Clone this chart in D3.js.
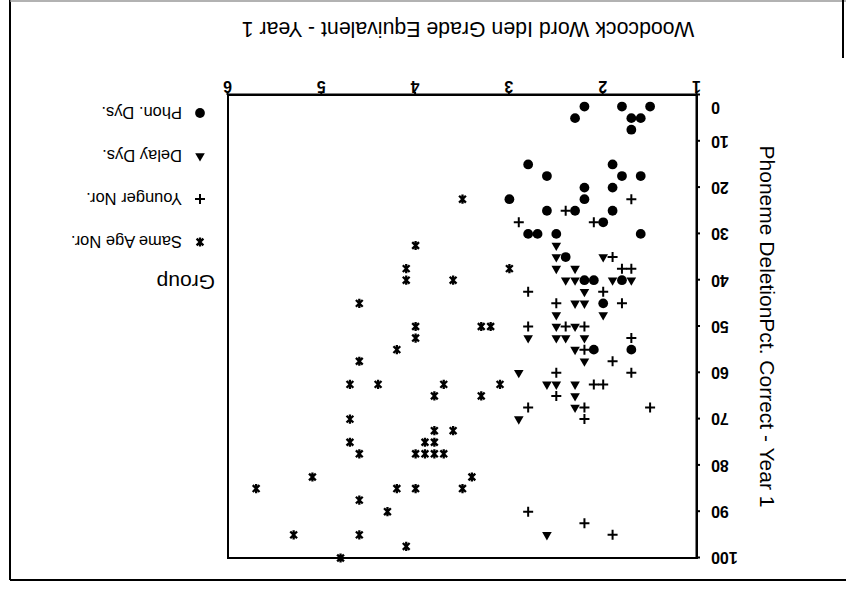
<!DOCTYPE html>
<html>
<head>
<meta charset="utf-8">
<script src="https://cdn.jsdelivr.net/npm/d3@7"></script>
<style>
  body { margin: 0; background: #fff; }
  svg { display: block; }
  text { font-family: "Liberation Sans", Arial, sans-serif; fill: #000; }
</style>
</head>
<body>
<div id="chart"></div>
<script>
// [Woodcock grade equivalent, phoneme deletion pct] per group
const phonDys = [
  [2.2, 2.5], [1.8, 2.5], [1.5, 2.5], [2.3, 5], [1.7, 5], [1.6, 5], [1.7, 7.5],
  [2.8, 15], [2.6, 17.5], [1.9, 15], [1.8, 17.5], [1.6, 17.5], [2.2, 20], [1.9, 20],
  [3.0, 22.5], [2.2, 22.5], [2.6, 25], [2.3, 25], [1.9, 25], [2.0, 27.5],
  [2.8, 30], [2.7, 30], [2.5, 30], [1.6, 30], [2.4, 35], [2.2, 40], [2.1, 40],
  [1.8, 40], [2.0, 45], [1.7, 55], [2.1, 55]
];
const delayDys = [
  [2.5, 32.5], [2.5, 35], [2.0, 35], [2.5, 37.5], [2.3, 37.5], [2.4, 40], [2.3, 40],
  [1.9, 40], [1.7, 40], [2.2, 42.5], [2.3, 45], [2.2, 45], [2.5, 47.5], [2.0, 47.5],
  [2.5, 50], [2.3, 50], [2.8, 52.5], [2.5, 52.5], [2.4, 52.5], [2.2, 52.5],
  [2.3, 55], [2.2, 57.5], [2.9, 60], [2.6, 62.5], [2.5, 62.5], [2.3, 62.5],
  [2.3, 65], [2.3, 67.5], [2.9, 70], [2.6, 95]
];
const youngerNor = [
  [1.7, 22.5], [2.4, 25], [2.1, 27.5], [2.9, 27.5], [1.9, 35], [1.8, 37.5], [1.7, 37.5],
  [2.8, 42.5], [2.0, 42.5], [2.5, 45], [1.8, 45], [2.8, 50], [2.4, 50], [2.2, 50],
  [1.7, 52.5], [2.2, 55], [1.9, 57.5], [2.5, 60], [1.7, 60], [2.1, 62.5], [2.0, 62.5],
  [2.5, 65], [2.8, 67.5], [2.2, 67.5], [1.5, 67.5], [2.2, 70], [2.8, 90], [2.2, 92.5],
  [1.9, 95]
];
const sameAgeNor = [
  [3.5, 22.5], [3.0, 37.5], [4.0, 32.5], [4.1, 37.5], [4.1, 40], [3.6, 40], [4.6, 45],
  [3.3, 50], [3.2, 50], [4.0, 50], [4.0, 52.5], [4.2, 55], [4.6, 57.5],
  [4.7, 62.5], [4.4, 62.5], [3.7, 62.5], [3.1, 62.5], [3.8, 65], [3.3, 65],
  [4.7, 70], [4.7, 75], [4.6, 77.5], [3.8, 72.5], [3.6, 72.5], [3.9, 75], [3.8, 75],
  [4.0, 77.5], [3.9, 77.5], [3.8, 77.5], [3.7, 77.5], [5.1, 82.5], [5.7, 85],
  [4.2, 85], [4.0, 85], [3.5, 85], [3.4, 82.5], [4.6, 87.5], [4.3, 90], [5.3, 95],
  [4.6, 95], [4.1, 97.5], [4.8, 100]
];

const groupNames = ["Same Age Nor.", "Younger Nor.", "Delay Dys.", "Phon. Dys."];
const xTicks = [1, 2, 3, 4, 5, 6];
const yTicks = [0, 10, 20, 30, 40, 50, 60, 70, 80, 90, 100];

const W = 846, H = 592;
const margin = {left: 149, right: 228, top: 34, bottom: 95};

const svg = d3.select("#chart").append("svg")
  .attr("width", W).attr("height", H);
svg.append("rect").attr("width", W).attr("height", H).attr("fill", "#fff");

// the source page was scanned upside down
const g = svg.append("g").attr("transform", `rotate(180 ${W / 2} ${H / 2})`);

const x = d3.scaleLinear().domain([1, 6]).range([margin.left, W - margin.right]);
const y = d3.scaleLinear().domain([0, 100]).range([H - margin.bottom, margin.top]);

// outer page frame
const frame = g.append("g").attr("stroke", "#000").attr("fill", "none");
frame.append("line").attr("x1", 836).attr("x2", 836).attr("y1", 12).attr("y2", 592).attr("stroke-width", 2);
frame.append("line").attr("x1", 0).attr("x2", 836).attr("y1", 12).attr("y2", 12).attr("stroke-width", 2);
frame.append("line").attr("x1", 0).attr("x2", 836).attr("y1", 591).attr("y2", 591).attr("stroke", "#999").attr("stroke-width", 1.5);
frame.append("line").attr("x1", 3).attr("x2", 3).attr("y1", 534).attr("y2", 592).attr("stroke-width", 2);

// plot box
g.append("rect")
  .attr("x", x(1)).attr("y", y(100))
  .attr("width", x(6) - x(1)).attr("height", y(0) - y(100))
  .attr("fill", "none").attr("stroke", "#000").attr("stroke-width", 2);

const styleAxis = (a, size, family) => {
  a.select(".domain").attr("stroke-width", 2);
  a.selectAll(".tick line").attr("stroke-width", 2);
  a.selectAll(".tick text")
    .attr("font-size", size)
    .attr("font-weight", "bold")
    .attr("font-family", family)
    .attr("fill", "#000");
};

g.append("g")
  .attr("transform", `translate(0,${y(0)})`)
  .call(d3.axisBottom(x).tickValues(xTicks).tickSize(3).tickSizeOuter(0).tickPadding(0).tickFormat(d3.format("d")))
  .call(a => styleAxis(a, 16, '"Liberation Sans", Arial, sans-serif'));

g.append("g")
  .attr("transform", `translate(${x(1)},0)`)
  .call(d3.axisLeft(y).tickValues(yTicks).tickSize(3).tickSizeOuter(0).tickPadding(11))
  .call(a => styleAxis(a, 16, '"Liberation Sans Narrow", "DejaVu Sans Condensed", "Liberation Sans", sans-serif'))
  .call(a => a.selectAll(".tick text").filter(d => d === 0).attr("dy", "-0.45em"));

// axis titles
g.append("text")
  .attr("x", 378).attr("y", 570)
  .attr("text-anchor", "middle")
  .attr("font-size", 21.3)
  .text("Woodcock Word Iden Grade Equivalent - Year 1");

g.append("text")
  .attr("transform", `translate(86,${(y(0) + y(100)) / 2}) rotate(-90)`)
  .attr("text-anchor", "middle")
  .attr("font-size", 21)
  .text("Phoneme DeletionPct. Correct - Year 1");

// markers
const plusPath = "M-5,0H5M0,-5V5";
const starPath = "M0,-4.6V4.6M-3.4,-3.4L3.4,3.4M-3.4,3.4L3.4,-3.4";
const circlePath = d3.symbol(d3.symbolCircle, 75)();
const trianglePath = d3.symbol(d3.symbolTriangle, 40)();

const marker = {
  "Phon. Dys.":    {d: circlePath,   fill: "#000", stroke: "none", sw: 0},
  "Delay Dys.":    {d: trianglePath, fill: "#000", stroke: "none", sw: 0},
  "Younger Nor.":  {d: plusPath,     fill: "none", stroke: "#000", sw: 2},
  "Same Age Nor.": {d: starPath,     fill: "none", stroke: "#000", sw: 2.3}
};

const series = [
  {name: "Phon. Dys.", pts: phonDys},
  {name: "Delay Dys.", pts: delayDys},
  {name: "Younger Nor.", pts: youngerNor},
  {name: "Same Age Nor.", pts: sameAgeNor}
];

series.forEach(s => {
  const m = marker[s.name];
  g.append("g").selectAll("path")
    .data(s.pts)
    .join("path")
    .attr("transform", d => `translate(${x(d[0])},${y(d[1])})`)
    .attr("d", m.d)
    .attr("fill", m.fill)
    .attr("stroke", m.stroke)
    .attr("stroke-width", m.sw);
});

// legend
const legend = g.append("g");
legend.append("text")
  .attr("x", 631).attr("y", 310)
  .attr("dominant-baseline", "central")
  .attr("font-size", 21)
  .text("Group");

const legendY = d3.scalePoint().domain(groupNames).range([350, 479]);
const items = legend.selectAll(".item")
  .data(groupNames)
  .join("g")
  .attr("class", "item")
  .attr("transform", d => `translate(646,${legendY(d)})`);
items.append("path")
  .attr("d", d => marker[d].d)
  .attr("fill", d => marker[d].fill)
  .attr("stroke", d => marker[d].stroke)
  .attr("stroke-width", d => marker[d].sw);
items.append("text")
  .attr("x", 18)
  .attr("dominant-baseline", "central")
  .attr("font-size", 16.5)
  .text(d => d);
</script>
</body>
</html>
